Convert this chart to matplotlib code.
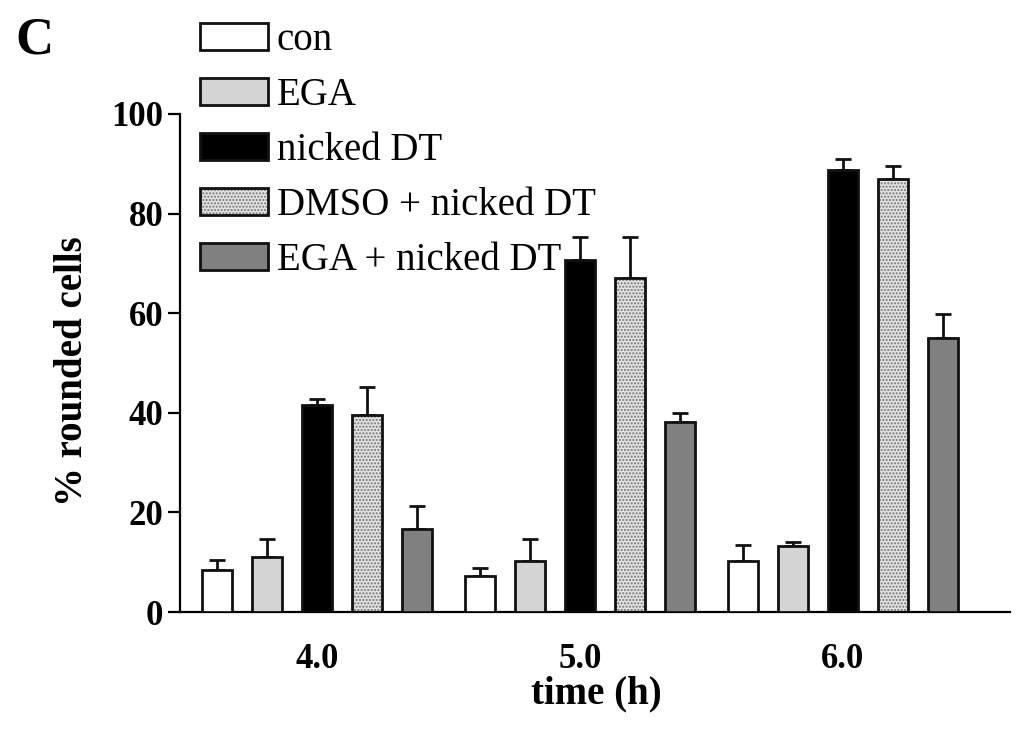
import matplotlib
matplotlib.use("Agg")
import matplotlib.pyplot as plt
from matplotlib.patches import Patch
from matplotlib.legend_handler import HandlerTuple
import numpy as np

plt.rcParams['font.family'] = ['Liberation Serif', 'DejaVu Serif']

times = ["4.0", "5.0", "6.0"]
labels = ["con", "EGA", "nicked DT", "DMSO + nicked DT", "EGA + nicked DT"]
means = {
    "con":              [8.5, 7.3, 10.3],
    "EGA":              [11.0, 10.2, 13.3],
    "nicked DT":        [41.5, 70.6, 88.7],
    "DMSO + nicked DT": [39.5, 67.0, 87.0],
    "EGA + nicked DT":  [16.6, 38.2, 55.0],
}
errors = {
    "con":              [2.0, 1.5, 3.2],
    "EGA":              [3.7, 4.5, 0.8],
    "nicked DT":        [1.3, 4.6, 2.2],
    "DMSO + nicked DT": [5.6, 8.3, 2.6],
    "EGA + nicked DT":  [4.7, 1.8, 4.9],
}
faces = ["white", "#d4d4d4", "black", "#e2e2e2", "#808080"]
hatches = [None, None, None, ".....", None]

fig = plt.figure(figsize=(10.24, 7.45), dpi=100)
ax = fig.add_axes([0.1758, 0.1785, 0.8102, 0.6685])

x = np.arange(len(times))
pitch = 0.19
width = 0.114
edge = "#111111"
dots = "#757575"
handles = []
for i, lab in enumerate(labels):
    pos = x + (i - 2) * pitch
    if hatches[i]:
        ax.bar(pos, means[lab], width, color=faces[i], edgecolor=dots,
               hatch=hatches[i], linewidth=0, zorder=2)
        ax.bar(pos, means[lab], width, fill=False, edgecolor=edge,
               linewidth=2, zorder=3)
        h = (Patch(facecolor=faces[i], edgecolor=dots, hatch=hatches[i], linewidth=0),
             Patch(fill=False, edgecolor=edge, linewidth=2))
    else:
        ax.bar(pos, means[lab], width, color=faces[i], edgecolor=edge,
               linewidth=2, zorder=3)
        h = Patch(facecolor=faces[i], edgecolor=edge, linewidth=2)
    ax.errorbar(pos, means[lab], yerr=[np.zeros(3), errors[lab]], fmt="none",
                ecolor=edge, elinewidth=2, capsize=5.5, capthick=2, zorder=1)
    handles.append(h)

ax.set_xlim(-0.521, 2.635)
ax.set_ylim(0, 100)
ax.set_yticks([0, 20, 40, 60, 80, 100])
ax.set_xticks(x)
ax.set_xticklabels(times)
for s in ["top", "right"]:
    ax.spines[s].set_visible(False)
ax.spines["left"].set_linewidth(1.6)
ax.spines["bottom"].set_linewidth(1.6)
ax.tick_params(axis="y", direction="out", length=9, width=1.6, labelsize=25, pad=3)
ax.tick_params(axis="x", length=0, labelsize=25, pad=22)
for t in ax.get_xticklabels() + ax.get_yticklabels():
    t.set_fontweight("bold")

ax.set_ylabel("% rounded cells", fontsize=28, fontweight="bold")
ax.set_xlabel("time (h)", fontsize=28, fontweight="bold")
ax.yaxis.set_label_coords(-0.107, 0.484)
ax.xaxis.set_label_coords(0.502, -0.128)

fig.text(0.015, 0.945, "C", fontsize=38, fontweight="bold", va="center", ha="left")

fig.legend(handles, labels, loc="upper left", bbox_to_anchor=(0.195, 0.97),
           frameon=False, fontsize=28, handlelength=1.75, handleheight=0.7,
           handletextpad=0.23, labelspacing=0.46, borderaxespad=0, borderpad=0,
           handler_map={tuple: HandlerTuple(ndivide=1)})

fig.savefig("out.png", dpi=100)
